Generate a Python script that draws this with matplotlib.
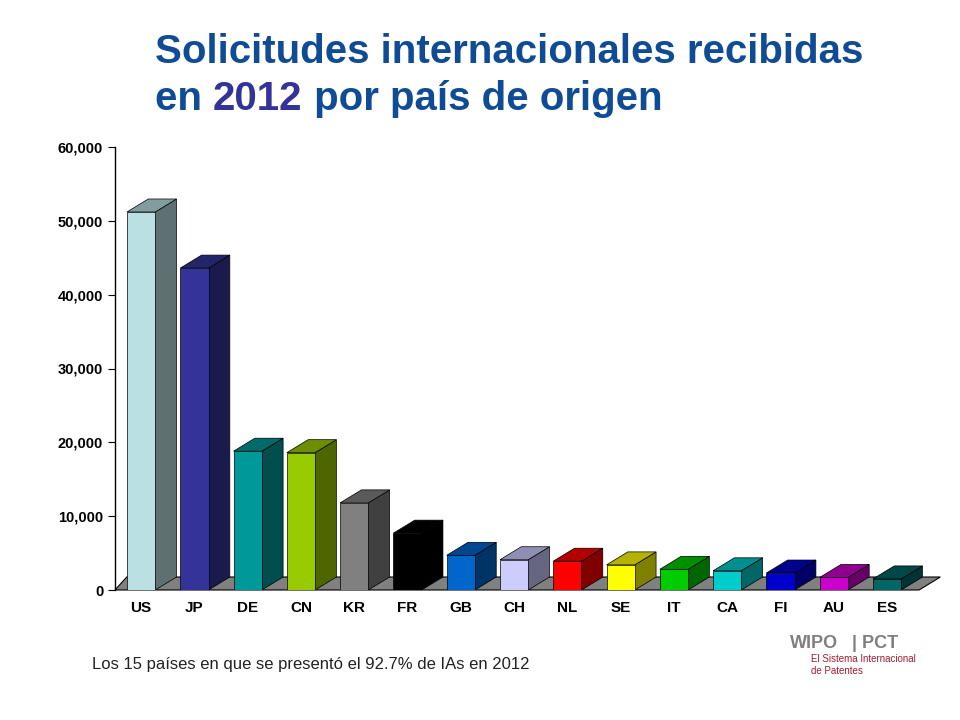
import matplotlib
matplotlib.use("Agg")
import matplotlib.pyplot as plt
from matplotlib.patches import Polygon
from matplotlib.ticker import FuncFormatter
import matplotlib.colors as mcolors

plt.rcParams['font.family'] = 'Liberation Sans'

# datos
paises = ['US', 'JP', 'DE', 'CN', 'KR', 'FR', 'GB', 'CH', 'NL', 'SE', 'IT', 'CA', 'FI', 'AU', 'ES']
valores = [51200, 43600, 18800, 18600, 11800, 7700, 4700, 4100, 3900, 3400, 2800, 2600, 2300, 1700, 1500]
colores = ['#BBE0E3', '#333399', '#009999', '#99CC00', '#808080', '#000000', '#0066CC', '#CCCCFF',
           '#FF0000', '#FFFF00', '#00CC00', '#00CCCC', '#0000CC', '#CC00CC', '#006666']
yticks = [0, 10000, 20000, 30000, 40000, 50000, 60000]

def shade(c, f):
    r, g, b = mcolors.to_rgb(c)
    return (r * f, g * f, b * f)

fig = plt.figure(figsize=(9.6, 7.2), dpi=100)
ax = fig.add_axes([115/960, 130/720, 820/960, 443/720])
ax.set_xlim(-0.49, 14.9)
ax.set_ylim(0, 60000)

dx, dy = 0.4, 1760   # profundidad 3D
w = 0.53

# suelo
ax.add_patch(Polygon([(-0.49, 0), (14.6, 0), (14.6 + dx, dy), (-0.49 + dx * 0.55, dy)],
                     closed=True, facecolor='#808080', edgecolor='black', lw=0.8, zorder=1, clip_on=False))

for i, (v, c) in enumerate(zip(valores, colores)):
    x0, x1 = i - w / 2, i + w / 2
    ax.add_patch(Polygon([(x1, 0), (x1 + dx, dy), (x1 + dx, v + dy), (x1, v)],
                         closed=True, facecolor=shade(c, 0.5),
                         edgecolor='black', lw=0.5, zorder=2 + i))
    ax.add_patch(Polygon([(x0, v), (x0 + dx, v + dy), (x1 + dx, v + dy), (x1, v)],
                         closed=True, facecolor=shade(c, 0.7),
                         edgecolor='black', lw=0.5, zorder=2 + i))
    ax.bar(i, v, width=w, color=c, edgecolor='black', lw=0.5, zorder=2 + i)

ax.set_xticks(range(len(paises)))
ax.set_xticklabels(paises, fontweight='bold', fontsize=11)
ax.set_yticks(yticks)
ax.yaxis.set_major_formatter(FuncFormatter(lambda v, p: f'{int(v):,}'))
for t in ax.get_yticklabels():
    t.set_fontweight('bold')
    t.set_fontsize(10.5)
ax.tick_params(axis='x', length=0, pad=8)
ax.tick_params(axis='y', length=5, direction='out')
for s in ['top', 'right', 'bottom']:
    ax.spines[s].set_visible(False)
ax.spines['left'].set_linewidth(1)

# titulo
fs = 29
fig.text(155/960, 1 - 52/720, 'Solicitudes internacionales recibidas', fontsize=fs,
         fontweight='bold', color='#0F4C95', va='center')
rend = fig.canvas.get_renderer()
x = 155
for word, col in [('en ', '#0F4C95'), ('2012', '#333399'), (' por país de origen', '#0F4C95')]:
    t = fig.text(x/960, 1 - 99/720, word, fontsize=fs, fontweight='bold', color=col, va='center')
    bb = t.get_window_extent(rend)
    x += bb.width

fig.text(92/960, 1 - 665/720, 'Los 15 países en que se presentó el 92.7% de IAs en 2012',
         fontsize=12, color='#222222', va='center')
fig.text(790/960, 1 - 644/720, 'WIPO', fontsize=13, fontweight='bold', color='#7F7F7F',
         va='center')
fig.text(852/960, 1 - 644/720, '| PCT', fontsize=13, fontweight='bold', color='#7F7F7F',
         va='center')
fig.text(811/960, 1 - 659/720, 'El Sistema Internacional', fontsize=7, color='#A51C30',
         va='center')
fig.text(811/960, 1 - 671/720, 'de Patentes', fontsize=7, color='#A51C30',
         va='center')

fig.savefig('out.png', dpi=100)
